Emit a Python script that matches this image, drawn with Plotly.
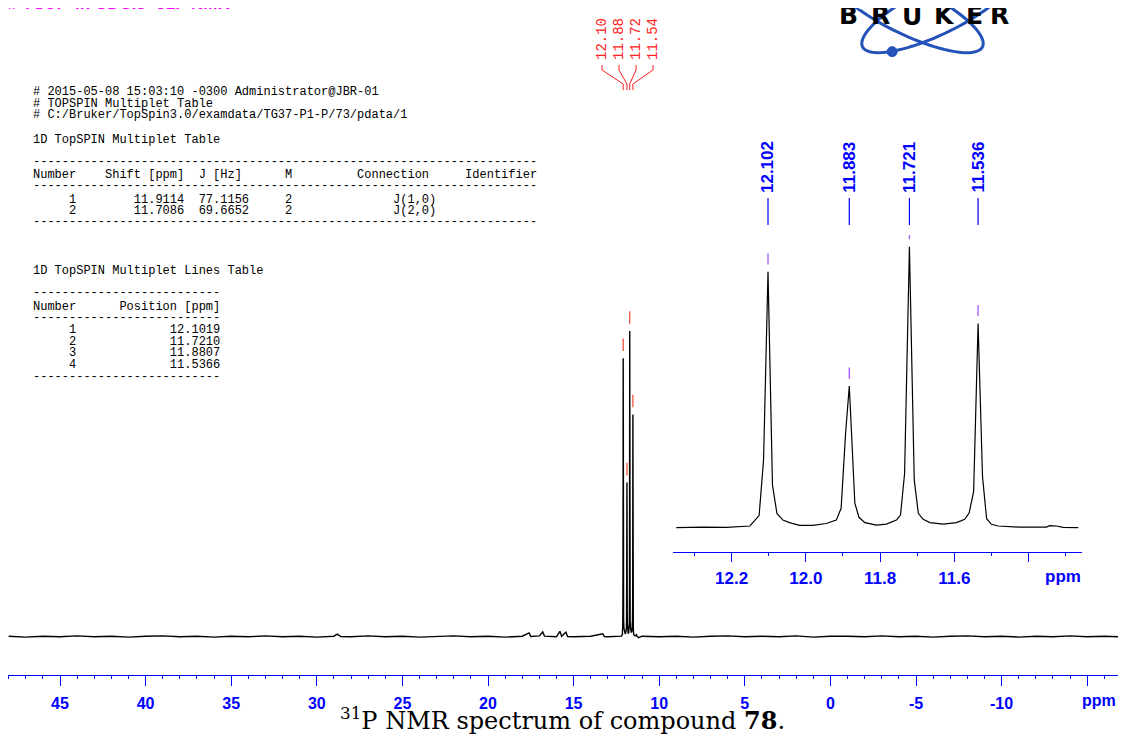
import numpy as np
import plotly.graph_objects as go

# ---------------- data ----------------
# inset trace: chemical shift (ppm) and relative intensity (tallest line = 100)
inset_ppm = [12.349, 12.277, 12.214, 12.151, 12.126, 12.114, 12.102, 12.090, 12.078, 12.062,
             12.044, 12.017, 11.981, 11.945, 11.918, 11.905, 11.893, 11.883, 11.868, 11.857,
             11.841, 11.810, 11.783, 11.756, 11.745, 11.734, 11.721, 11.708, 11.697, 11.684,
             11.666, 11.630, 11.594, 11.572, 11.560, 11.548, 11.536, 11.524, 11.513, 11.500,
             11.482, 11.424, 11.352, 11.343, 11.325, 11.307, 11.266]
inset_int = [0.0, 0.2, 0.1, 0.6, 4.3, 24.1, 91.1, 15.2, 5.1, 2.7,
             1.8, 0.8, 0.8, 1.5, 2.7, 6.9, 33.6, 50.4, 8.7, 3.7,
             1.8, 0.9, 1.3, 2.7, 4.5, 19.3, 100.0, 17.0, 5.1, 3.0,
             1.8, 1.3, 1.8, 3.0, 5.3, 12.8, 72.7, 18.1, 3.2, 1.2,
             0.6, 0.2, 0.2, 0.7, 0.6, 0.1, 0.0]

# full-range baseline either side of the multiplet
base_left_ppm = [48.0, 47.0, 46.0, 45.0, 44.0, 43.0, 42.0, 41.0, 40.0, 39.0, 38.0, 37.0, 36.0,
                 35.0, 34.0, 33.0, 32.0, 31.0, 30.0, 29.0, 28.8, 28.6, 28.0, 27.0, 26.0, 25.0,
                 24.0, 23.0, 22.0, 21.0, 20.0, 19.0, 18.0, 17.6, 17.5, 17.0, 16.8, 16.7, 16.0,
                 15.8, 15.7, 15.45, 15.35, 15.0, 14.0, 13.3, 13.2, 13.0, 12.5]
base_left_int = [0.1, -0.2, 0.1, -0.1, 0.2, -0.1, 0.1, -0.2, 0.1, 0.2, -0.1, 0.1, -0.2,
                 0.1, -0.1, 0.2, -0.1, 0.1, -0.2, 0.1, 0.8, 0.0, -0.1, 0.2, -0.1, 0.1,
                 -0.2, 0.1, 0.2, -0.1, 0.1, -0.2, 0.1, 1.2, 0.0, 0.2, 1.5, 0.1, -0.1,
                 1.7, 0.1, 1.4, 0.0, -0.1, 0.1, 0.9, 0.0, -0.1, 0.1]
base_right_ppm = [11.2, 11.0, 10.0, 9.0, 8.0, 7.0, 6.0, 5.0, 4.0, 3.0, 2.0, 1.0, 0.0, -1.0,
                  -2.0, -3.0, -4.0, -5.0, -6.0, -7.0, -8.0, -9.0, -10.0, -11.0, -12.0, -13.0,
                  -14.0, -15.0, -16.0, -17.0, -17.3]
base_right_int = [-0.4, 0.1, -0.1, 0.1, -0.2, 0.1, 0.2, -0.1, 0.1, -0.1, 0.2, -0.2, 0.1, 0.1,
                  -0.1, 0.2, -0.1, 0.1, -0.2, 0.1, 0.2, -0.1, 0.1, -0.2, 0.1, -0.1,
                  0.2, -0.1, 0.1, -0.1, 0.1]

peak_ppm = [12.102, 11.883, 11.721, 11.536]
peak_int = [91.1, 50.4, 100.0, 72.7]
peak_labels_inset = ["12.102", "11.883", "11.721", "11.536"]
peak_labels_main = ["12.10", "11.88", "11.72", "11.54"]

main_tickvals = [45, 40, 35, 30, 25, 20, 15, 10, 5, 0, -5, -10, -15]
main_ticktext = ["45", "40", "35", "30", "25", "20", "15", "10", "5", "0", "-5", "-10", ""]
inset_tickvals = [12.2, 12.0, 11.8, 11.6, 11.4]
inset_ticktext = ["12.2", "12.0", "11.8", "11.6", ""]

header_lines = [
    "# 2015-05-08 15:03:10 -0300 Administrator@JBR-01",
    "# TOPSPIN Multiplet Table",
    "# C:/Bruker/TopSpin3.0/examdata/TG37-P1-P/73/pdata/1",
]
multiplet_title = "1D TopSPIN Multiplet Table"
multiplet_rows = [
    "-" * 70,
    "Number    Shift [ppm]  J [Hz]      M         Connection     Identifier",
    "-" * 70,
    "     1        11.9114  77.1156     2              J(1,0)",
    "     2        11.7086  69.6652     2              J(2,0)",
    "-" * 70,
]
lines_title = "1D TopSPIN Multiplet Lines Table"
lines_rows = [
    "-" * 26,
    "Number      Position [ppm]",
    "-" * 26,
    "     1             12.1019",
    "     2             11.7210",
    "     3             11.8807",
    "     4             11.5366",
    "-" * 26,
]
title_text = "# TG37 -in CDCl3- 31P NMR"
logo_letters = ["B", "R", "Ü", "K", "E", "R"]
caption = "<sup>31</sup>P NMR spectrum of compound <b>78</b>."

# ---------------- geometry (page pixels; the page body adds an 8 px margin) ----------------
OX, OY = 8, 8
FW, FH = 1126 - 2 * OX, 742 - 2 * OY
ML, MR, MT = 0, 0, 0
MB = FH - (675 - OY)              # x axis line at page y = 675
PW = FW - ML - MR
PH = FH - MT - MB

PPM_PX = 17.12                    # main axis: pixels per ppm
ZERO_PX = 830.4                   # page x of 0 ppm
X0 = (ZERO_PX - (OX + ML)) / PPM_PX
X1 = -((OX + ML + PW) - ZERO_PX) / PPM_PX
Y0 = -(675 - 636.5) / 3.055       # main y range
Y1 = Y0 + PH / 3.055

IX0, IX1 = 12.358, 11.256         # inset x range
I_BOT, I_TOP = 551.7, 235.0       # inset domain (page pixels)
IY0 = -(I_BOT - 527.7) / 2.81
IY1 = IY0 + (I_BOT - I_TOP) / 2.81


def pxx(px):
    return (px - OX - ML) / PW


def pxy(py):
    return (FH - MB - (py - OY)) / PH


def px_to_ppm(px):
    return X0 - pxx(px) * (X0 - X1)


BLUE = "#0000ff"
RED = "#ff2020"
MONO = "Liberation Mono"
SANS = "Liberation Sans"

fig = go.Figure()

main_x = base_left_ppm + inset_ppm + base_right_ppm
main_y = base_left_int + inset_int + base_right_int
fig.add_trace(go.Scatter(x=main_x, y=main_y, mode="lines",
                         line=dict(color="black", width=1.4),
                         xaxis="x", yaxis="y", hoverinfo="skip"))
fig.add_trace(go.Scatter(x=peak_ppm, y=[v + 4.4 for v in peak_int], mode="markers",
                         marker=dict(symbol="line-ns-open", size=9,
                                     line=dict(color=RED, width=1.3)),
                         xaxis="x", yaxis="y", hoverinfo="skip"))
fig.add_trace(go.Scatter(x=inset_ppm, y=inset_int, mode="lines",
                         line=dict(color="black", width=1.2),
                         xaxis="x2", yaxis="y2", hoverinfo="skip"))
fig.add_trace(go.Scatter(x=peak_ppm, y=[v + 4.6 for v in peak_int], mode="markers",
                         marker=dict(symbol="line-ns-open", size=8,
                                     line=dict(color=BLUE, width=1.4)),
                         xaxis="x2", yaxis="y2", hoverinfo="skip"))

annotations = []
shapes = []

# main peak labels (red, rotated) with connectors
for i, (p, lab) in enumerate(zip(peak_ppm, peak_labels_main)):
    lx = px_to_ppm(602 + 17 * i)
    annotations.append(dict(x=lx, y=pxy(62), xref="x", yref="paper", text=lab,
                            textangle=-90, showarrow=False, xanchor="center",
                            yanchor="bottom", font=dict(family=MONO, size=14, color=RED)))
    path = (f"M {lx},{pxy(65)} L {lx},{pxy(70)} L {p},{pxy(84)} L {p},{pxy(90)}")
    shapes.append(dict(type="path", path=path, xref="x", yref="paper",
                       line=dict(color=RED, width=1)))

# inset peak labels (blue, rotated) with ticks
for p, lab in zip(peak_ppm, peak_labels_inset):
    annotations.append(dict(x=p, y=pxy(195), xref="x2", yref="paper", text=lab,
                            textangle=-90, showarrow=False, xanchor="center",
                            yanchor="bottom",
                            font=dict(family=SANS, size=17, color=BLUE, weight="bold")))
    shapes.append(dict(type="line", x0=p, x1=p, y0=pxy(198), y1=pxy(225),
                       xref="x2", yref="paper", line=dict(color=BLUE, width=1.2)))

# ppm unit labels
annotations.append(dict(x=pxx(1118), y=pxy(700), xref="paper", yref="paper", text="ppm",
                        showarrow=False, xanchor="right", yanchor="middle",
                        font=dict(family=SANS, size=16, color=BLUE, weight="bold")))
annotations.append(dict(x=pxx(1063), y=pxy(576), xref="paper", yref="paper", text="ppm",
                        showarrow=False, xanchor="center", yanchor="middle",
                        font=dict(family=SANS, size=17, color=BLUE, weight="bold")))


def mono_line(text, py):
    annotations.append(dict(x=pxx(31), y=pxy(py), xref="paper", yref="paper",
                            text=text.replace(" ", "\u00a0"), showarrow=False,
                            xanchor="left", yanchor="middle",
                            font=dict(family=MONO, size=12, color="black")))


for t, py in zip(header_lines, [92, 103.5, 115]):
    mono_line(t, py)
mono_line(multiplet_title, 140)
for t, py in zip(multiplet_rows, [162, 175, 186, 199.5, 211, 222]):
    mono_line(t, py)
mono_line(lines_title, 271)
for t, py in zip(lines_rows, [293, 307, 318, 330, 341.5, 353, 365, 377]):
    mono_line(t, py)

# magenta title, cut by the top edge
annotations.append(dict(x=pxx(6), y=pxy(15.5), xref="paper", yref="paper", text=title_text,
                        showarrow=False, xanchor="left", yanchor="bottom",
                        font=dict(family=SANS, size=17, color="#ff00ff", weight="bold")))

# caption
annotations.append(dict(x=pxx(562), y=pxy(718.5), xref="paper", yref="paper", text=caption,
                        showarrow=False, xanchor="center", yanchor="middle",
                        font=dict(family="DejaVu Serif", size=24, color="black")))


# Bruker logo
def ellipse_pts(cx, cy, a, b, th_deg, n=90):
    th = np.radians(th_deg)
    t = np.linspace(0, 2 * np.pi, n)
    xs = cx + a * np.cos(t) * np.cos(th) - b * np.sin(t) * np.sin(th)
    ys = cy + a * np.cos(t) * np.sin(th) + b * np.sin(t) * np.cos(th)
    return xs, ys


LOGO_BLUE = "#2352b8"
for cx, th in [(938, -26), (907, 26)]:
    xs, ys = ellipse_pts(cx, 10, 84, 24, th)
    path = "M " + " L ".join(f"{pxx(a):.5f},{pxy(b):.5f}" for a, b in zip(xs, ys)) + " Z"
    shapes.append(dict(type="path", path=path, xref="paper", yref="paper",
                       line=dict(color=LOGO_BLUE, width=3)))
xs, ys = ellipse_pts(938, 10, 84, 24, -26)
k = int(np.argmax(ys))
dx, dy = xs[k] + 14, ys[k] - 1
shapes.append(dict(type="circle", xref="paper", yref="paper",
                   x0=pxx(dx - 5), x1=pxx(dx + 5), y0=pxy(dy - 5), y1=pxy(dy + 5),
                   fillcolor=LOGO_BLUE, line=dict(color=LOGO_BLUE, width=1)))
for letter, cxp in zip(logo_letters, [848, 880, 912, 944, 974, 999]):
    annotations.append(dict(x=pxx(cxp), y=pxy(16), xref="paper", yref="paper", text=letter,
                            showarrow=False, xanchor="center", yanchor="middle",
                            font=dict(family="DejaVu Sans", size=25, color="black",
                                      weight="bold")))

axis_common = dict(showgrid=False, zeroline=False, showline=True, linecolor=BLUE,
                   linewidth=1, ticks="outside", tickcolor=BLUE, tickwidth=1)

fig.update_layout(
    width=FW, height=FH,
    margin=dict(l=ML, r=MR, t=MT, b=MB, pad=0),
    paper_bgcolor="white", plot_bgcolor="rgba(0,0,0,0)",
    showlegend=False,
    xaxis=dict(domain=[0, 1], range=[X0, X1], anchor="y",
               tickmode="array", tickvals=main_tickvals, ticktext=main_ticktext,
               ticklen=10, ticklabelstandoff=4,
               minor=dict(tickmode="linear", tick0=0, dtick=1, ticklen=3,
                          tickcolor=BLUE, tickwidth=1, ticks="outside"),
               tickfont=dict(family=SANS, size=16, color=BLUE, weight="bold"),
               **axis_common),
    yaxis=dict(domain=[0, 1], range=[Y0, Y1], visible=False, fixedrange=True),
    xaxis2=dict(domain=[pxx(673), pxx(1082)], range=[IX0, IX1], anchor="y2",
                tickmode="array", tickvals=inset_tickvals, ticktext=inset_ticktext,
                ticklen=9, ticklabelstandoff=2,
                minor=dict(tickmode="linear", tick0=0, dtick=0.1, ticklen=3,
                           tickcolor=BLUE, tickwidth=1, ticks="outside"),
                tickfont=dict(family=SANS, size=17, color=BLUE, weight="bold"),
                **axis_common),
    yaxis2=dict(domain=[pxy(I_BOT), pxy(I_TOP)], range=[IY0, IY1], anchor="x2",
                visible=False),
    annotations=annotations,
    shapes=shapes,
)

fig.write_html("out.html")
